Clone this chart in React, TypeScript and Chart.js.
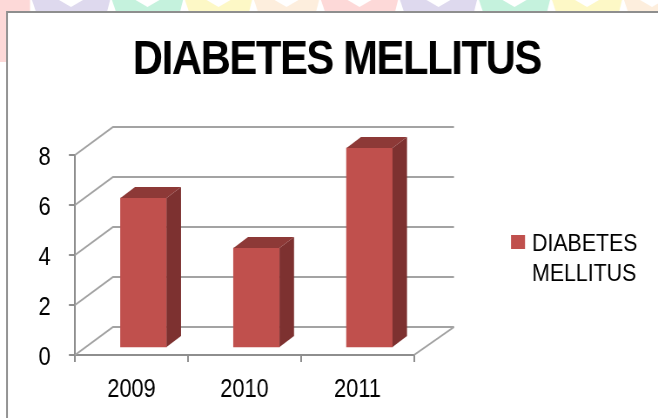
import React, { useEffect, useRef } from "react";
import { Chart, registerables } from "chart.js";

Chart.register(...registerables);

const categories = ["2009", "2010", "2011"];
const seriesName = "DIABETES MELLITUS";
const seriesValues = [6, 4, 8];
const yTicks = [0, 2, 4, 6, 8];

const FONT = "'Liberation Sans', Arial, sans-serif";
const AXIS = "#8e8e8e";
const GRID = "#a3a3a3";
const CANVAS_W = 756;
const SQUEEZE = 658 / CANVAS_W;
const sx = (v: number) => v / SQUEEZE;
const BACK_DX = sx(38);
const BACK_DY = -28;
const BAR_DX = sx(12);
const BAR_DY = -7;
const SIDE_DX = sx(14.5);
const SIDE_DY = -11;

const backdrop = {
  id: "backdrop",
  beforeDraw(chart: any) {
    const c = chart.ctx;
    c.save();
    c.fillStyle = "#fff";
    c.fillRect(0, 0, chart.width, chart.height);
    c.fillStyle = "#fdd9d8";
    c.fillRect(0, 0, sx(30), 62);
    const bands: [number, number, string][] = [
      [32, 110, "#ded9ee"], [112, 183, "#c5f2dd"], [185, 252, "#fdf8c6"], [254, 319, "#fdeedd"],
      [321, 398, "#fdd9d8"], [400, 477, "#ded9ee"], [479, 550, "#c5f2dd"], [552, 622, "#fdf8c6"], [624, 680, "#fdeedd"],
    ];
    bands.forEach(([a, b, col]) => {
      c.fillStyle = col;
      c.beginPath();
      c.moveTo(sx(a), 0);
      c.lineTo(sx(b), 0);
      c.lineTo(sx(b - 3), 12);
      c.lineTo(sx(a + 4), 12);
      c.fill();
      const m = sx((a + b) / 2);
      c.fillStyle = "#fff";
      c.beginPath();
      c.moveTo(m - sx(12), 0);
      c.lineTo(m, 7);
      c.lineTo(m + sx(12), 0);
      c.fill();
    });
    c.fillStyle = "#fff";
    c.fillRect(sx(7), 12, chart.width, chart.height);
    c.strokeStyle = AXIS;
    c.lineWidth = 2;
    c.beginPath();
    c.moveTo(sx(7), chart.height);
    c.lineTo(sx(7), 12);
    c.lineTo(chart.width, 12);
    c.stroke();
    c.restore();
  },
};

const depth3d = {
  id: "depth3d",
  afterLayout(chart: any) {
    const tb = chart.titleBlock;
    if (tb && !tb.__tight) {
      const draw = tb.draw.bind(tb);
      tb.draw = (...args: any[]) => {
        chart.ctx.save();
        chart.ctx.letterSpacing = "-1.6px";
        draw(...args);
        chart.ctx.restore();
      };
      tb.__tight = true;
    }
  },
  beforeDatasetsDraw(chart: any) {
    const c = chart.ctx;
    const { x, y } = chart.scales;
    c.save();
    c.strokeStyle = GRID;
    c.lineWidth = 2;
    yTicks.forEach((v) => {
      const py = y.getPixelForValue(v);
      c.beginPath();
      c.moveTo(x.left, py);
      c.lineTo(x.left + BACK_DX, py + BACK_DY);
      c.lineTo(x.right + BACK_DX + sx(2), py + BACK_DY);
      c.stroke();
    });
    const floor = y.getPixelForValue(0);
    c.beginPath();
    c.moveTo(x.right, floor);
    c.lineTo(x.right + BACK_DX + sx(2), floor + BACK_DY);
    c.stroke();
    c.restore();
    c.save();
    c.translate(BAR_DX, BAR_DY);
  },
  afterDatasetsDraw(chart: any) {
    const c = chart.ctx;
    chart.getDatasetMeta(0).data.forEach((bar: any) => {
      const l = bar.x - bar.width / 2;
      const r = bar.x + bar.width / 2;
      c.fillStyle = "#7d3130";
      c.beginPath();
      c.moveTo(r, bar.y);
      c.lineTo(r + SIDE_DX, bar.y + SIDE_DY);
      c.lineTo(r + SIDE_DX, bar.base + SIDE_DY);
      c.lineTo(r, bar.base);
      c.fill();
      c.fillStyle = "#8d3937";
      c.beginPath();
      c.moveTo(l, bar.y);
      c.lineTo(l + SIDE_DX, bar.y + SIDE_DY);
      c.lineTo(r + SIDE_DX, bar.y + SIDE_DY);
      c.lineTo(r, bar.y);
      c.fill();
    });
    c.restore();
  },
  afterDraw(chart: any) {
    const c = chart.ctx;
    const ds = chart.data.datasets[0];
    c.save();
    c.fillStyle = ds.backgroundColor;
    c.fillRect(sx(511), 235, sx(14), 14);
    c.fillStyle = "#000";
    c.font = `24.5px ${FONT}`;
    c.textBaseline = "middle";
    ds.label.split(" ").forEach((w: string, i: number) => c.fillText(w, sx(532), 244 + i * 30));
    c.restore();
  },
};

export default function App() {
  const ref = useRef<HTMLCanvasElement>(null);
  useEffect(() => {
    const chart = new Chart(ref.current!, {
      type: "bar",
      data: {
        labels: categories,
        datasets: [{ label: seriesName, data: seriesValues, backgroundColor: "#c0504d", barThickness: sx(46), yAxisID: "y", clip: false } as any],
      },
      plugins: [backdrop, depth3d],
      options: {
        responsive: false,
        animation: false,
        layout: { padding: { left: 18, right: 0, top: 0, bottom: 0 } },
        plugins: {
          legend: { display: false },
          tooltip: { enabled: false },
          title: {
            display: true,
            text: seriesName,
            color: "#000",
            font: { family: FONT, size: 48, weight: "bold", lineHeight: 1 },
            padding: { top: 37, bottom: 70 },
          },
        },
        scales: {
          x: {
            afterFit: (s: any) => { s.height = 63; },
            border: { color: AXIS, width: 2 },
            grid: { drawOnChartArea: false, color: AXIS, lineWidth: 2, tickLength: 7 },
            ticks: { color: "#000", font: { family: FONT, size: 25 }, padding: 13, maxRotation: 0 },
          },
          y: {
            min: 0,
            max: 8,
            afterFit: (s: any) => { s.width = sx(75) - 18; },
            border: { color: AXIS, width: 2 },
            grid: { drawOnChartArea: false, color: AXIS, lineWidth: 2, tickLength: 7 },
            ticks: { stepSize: 2, color: "#000", font: { family: FONT, size: 25 }, padding: 21, labelOffset: 3 },
          },
          spacer: {
            axis: "y",
            position: "right",
            afterFit: (s: any) => { s.width = CANVAS_W - sx(414); },
            border: { display: false },
            grid: { display: false },
            ticks: { display: false },
          },
        } as any,
      },
    } as any);
    return () => chart.destroy();
  }, []);
  return (
    <div style={{ position: "absolute", left: 0, top: 0, transform: `scaleX(${SQUEEZE})`, transformOrigin: "0 0" }}>
      <canvas ref={ref} width={CANVAS_W} height={418} style={{ display: "block" }} />
    </div>
  );
}
